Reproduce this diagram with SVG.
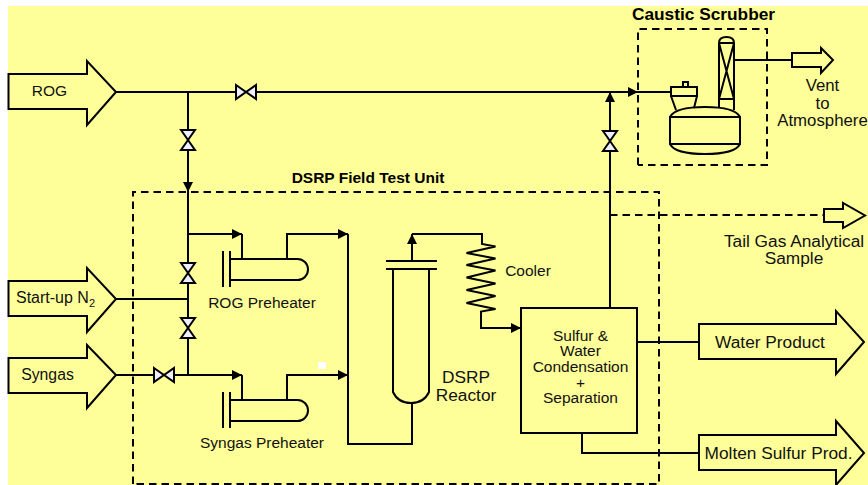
<svg xmlns="http://www.w3.org/2000/svg" width="868" height="485" viewBox="0 0 868 485">
<style>
.s{fill:none;stroke:#000;stroke-width:2;stroke-linejoin:miter}
.a{fill:#ffff99;stroke:#000;stroke-width:2}
.d{fill:none;stroke:#000;stroke-width:2;stroke-dasharray:7.5 5}
.v{fill:#eeeeff;stroke:#000;stroke-width:2;stroke-linejoin:miter}
text{font-family:"Liberation Sans",Arial,sans-serif;font-size:15.500px;fill:#111;text-anchor:middle}
.b{font-weight:bold;fill:#000}
.m{font-size:15.500px}
.l{font-size:17.300px}
.n{font-size:16.800px}
</style>
<defs>
<marker id="ah" markerUnits="userSpaceOnUse" markerWidth="11" markerHeight="10" refX="10" refY="5" orient="auto"><path d="M0 0L10 5L0 10Z" fill="#000"/></marker>
<g id="valveH"><path class="v" d="M-10 -7L10 7V-7L-10 7Z"/></g>
<g id="valveV"><path class="v" d="M-7 -10L7 10H-7L7 -10Z"/></g>
<g id="preheater"><path class="s" d="M0 0V36M7 0V36M8 8H74.500A10.500 10.500 0 0 1 74.500 29H8"/></g>
</defs>
<rect x="8" y="6" width="860" height="479" fill="#ffff99"/>
<path class="d" d="M133 484V192H659V484H133"/>
<path class="d" d="M638 165V29H767V165H638"/>
<g id="connectors">
<path class="s" d="M116 92H236M256 92H638" marker-end="url(#ah)"/>
<path class="s" d="M638 92H671"/>
<path class="s" d="M188 92V130M188 151V192" marker-end="url(#ah)"/>
<path class="s" d="M188 192V263M188 284V318M188 339V375"/>
<path class="s" d="M188 234H242" marker-end="url(#ah)"/>
<path class="s" d="M242 234V259"/>
<path class="s" d="M116 299H188"/>
<path class="s" d="M116 375H154M174 375H242" marker-end="url(#ah)"/>
<path class="s" d="M242 375V400"/>
<path class="s" d="M287 259V234H348" marker-end="url(#ah)"/>
<path class="s" d="M287 400V375H348" marker-end="url(#ah)"/>
<path class="s" d="M348 234V444H412V403"/>
<path class="s" d="M412 261V234" marker-end="url(#ah)"/>
<path class="s" d="M412 234H482V244L495.500 246.500L466.500 253L495.500 258.500L466.500 265L495.500 270.500L466.500 277.500L495.500 283.500L466.500 290L495.500 296L466.500 303L495.500 309L481 311.500V328H521" marker-end="url(#ah)"/>
<path class="s" d="M610 308V151M610 131V92" marker-end="url(#ah)"/>
<path class="d" d="M610 215H824"/>
<path class="s" d="M637 342H699"/>
<path class="s" d="M582 433V453H699"/>
<path class="s" d="M734 60H792"/>
</g>
<g id="valves">
<use href="#valveH" x="246" y="92"/>
<use href="#valveV" x="188" y="140"/>
<use href="#valveV" x="188" y="273"/>
<use href="#valveV" x="188" y="328"/>
<use href="#valveH" x="164" y="375"/>
<use href="#valveV" x="610" y="141"/>
</g>
<g id="rog"><path class="a" d="M8.500 74H87V61L116 92L87 125V109H8.500Z"/><text x="49.500" y="96">ROG</text></g>
<g id="startup"><path class="a" d="M8.500 281H87V268L116 299L87 332V316H8.500Z"/><text x="16" y="303" style="text-anchor:start;font-size:16px">Start-up N<tspan font-size="11" dy="4">2</tspan></text></g>
<g id="syngas"><path class="a" d="M8.500 358H87V345L116 375L87 408V393H8.500Z"/><text x="47.500" y="380" style="font-size:15.800px">Syngas</text></g>
<g id="rog-preheater"><use href="#preheater" x="223" y="251"/><text x="262" y="308">ROG Preheater</text></g>
<g id="syngas-preheater"><use href="#preheater" x="223" y="392"/><text x="262" y="448">Syngas Preheater</text></g>
<g id="reactor"><path class="s" d="M386 261H437M386 269H437M393 269V392Q398 403 411 403Q424 403 429 392V269"/><text class="l" x="466" y="383">DSRP</text><text class="l" x="466" y="401">Reactor</text></g>
<text id="cooler" x="528" y="276">Cooler</text>
<g id="separator"><rect class="s" x="521" y="308" width="116" height="125"/>
<text class="m" x="580.500" y="341">Sulfur &amp;</text><text class="m" x="580.500" y="356">Water</text><text class="m" x="580.500" y="372">Condensation</text><text class="m" x="580.500" y="388">+</text><text class="m" x="580.500" y="403">Separation</text></g>
<g id="water"><path class="a" d="M699 324H836V311L864 342L836 374V359H699Z"/><text class="l" x="770" y="348">Water Product</text></g>
<g id="molten"><path class="a" d="M699 435H836V421L864 453L836 485V470H699Z"/><text class="l" x="778.500" y="459">Molten Sulfur Prod.</text></g>
<g id="tailgas"><path class="a" d="M824 209H843V203L865 215.500L843 228V222H824Z"/><text class="l" x="794" y="247">Tail Gas Analytical</text><text class="l" x="794" y="264">Sample</text></g>
<g id="vent"><path class="a" d="M792 53H821V48L833 60L821 73V67H792Z"/><text class="n" x="822.500" y="91">Vent</text><text class="n" x="822.500" y="109">to</text><text class="n" x="822.500" y="126">Atmosphere</text></g>
<g id="scrubber"><path class="s" d="M683 87V82H688V87M671 87H697V96H671ZM671 96L676 110M697 96L694 108"/>
<path class="s" d="M670 117H740V144H670ZM670 117Q675 107 705 107Q735 107 740 117M670 144Q675 154 705 154Q735 154 740 144"/>
<path class="s" d="M719 108V43Q719 37 726.500 37Q734 37 734 43V110M719 43H734M719 99H734M719 43L734 99M734 43L719 99"/></g>
<rect x="318" y="362" width="8" height="7" fill="#fff"/>
<text class="b l" x="703.500" y="20">Caustic Scrubber</text>
<text class="b m" x="368" y="183">DSRP Field Test Unit</text>
</svg>
